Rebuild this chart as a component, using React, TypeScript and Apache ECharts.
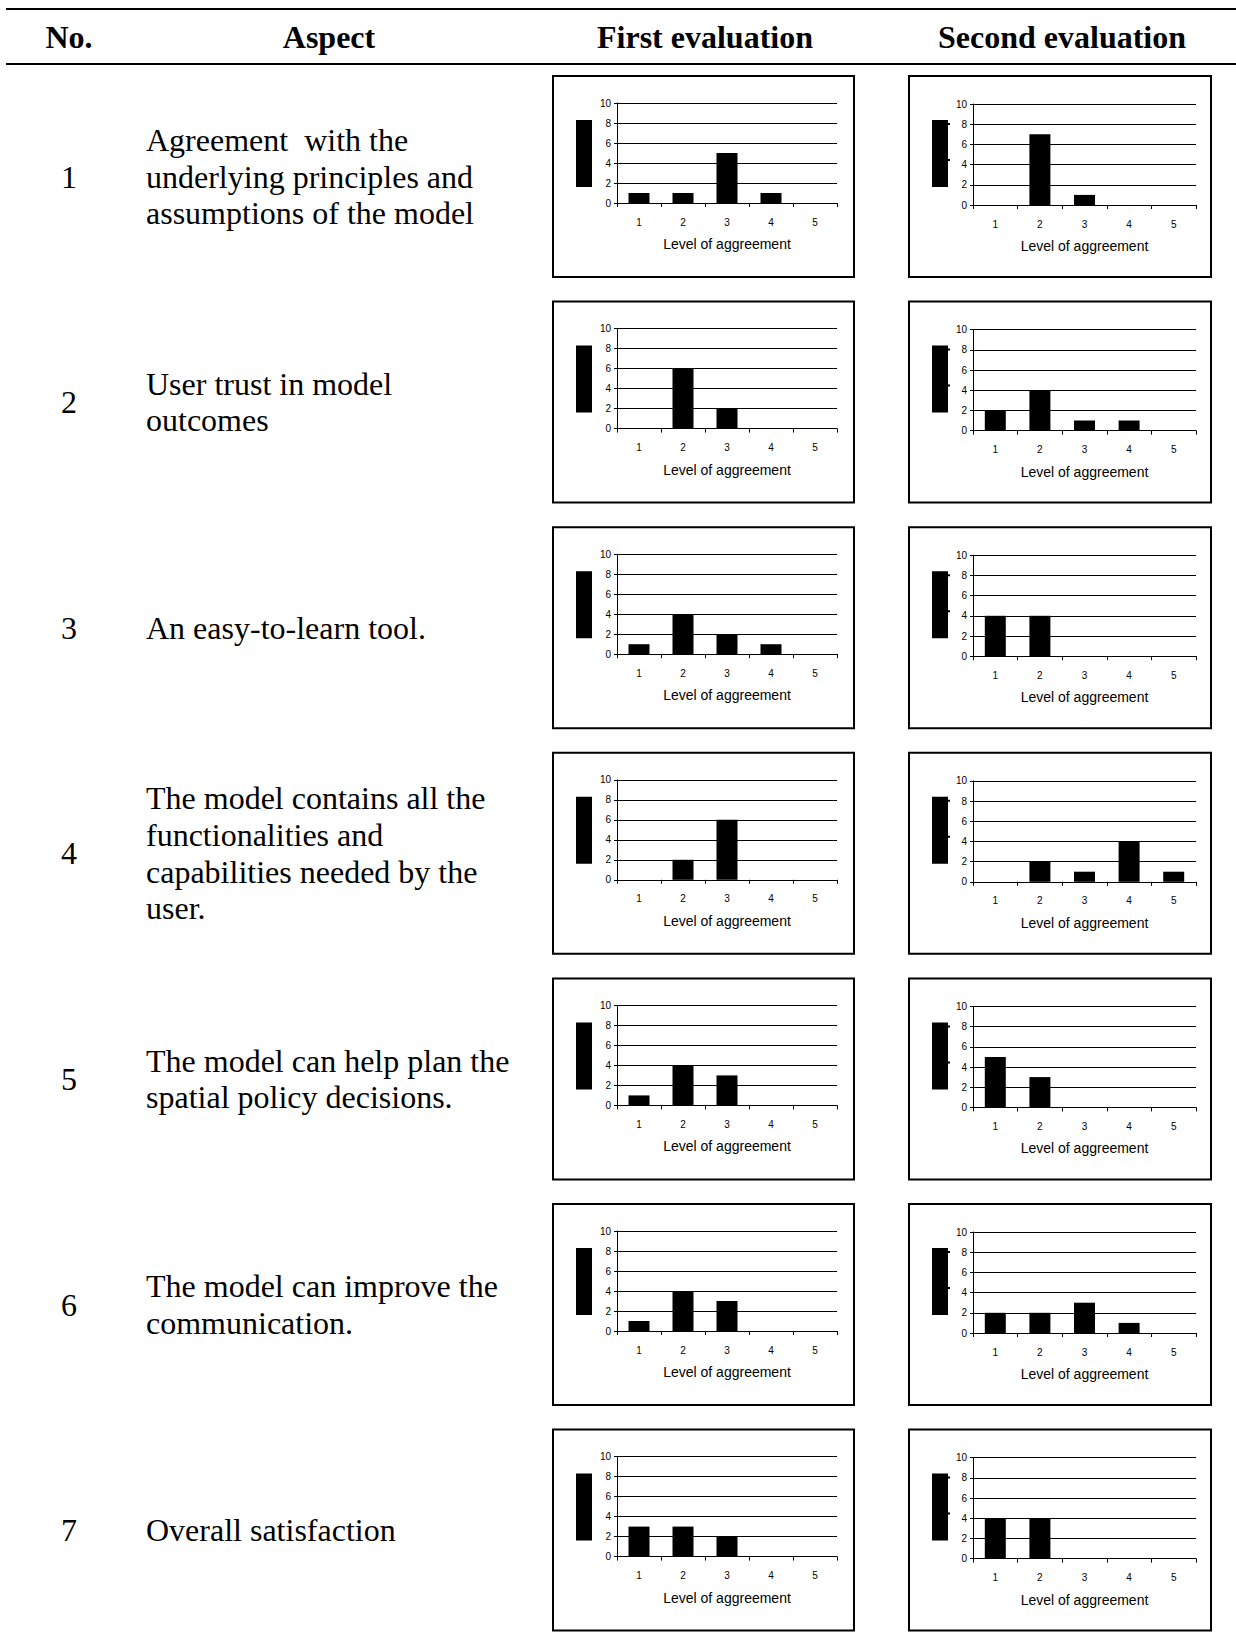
import React, { useEffect, useRef } from "react";
import * as echarts from "echarts";

const levels = ["1", "2", "3", "4", "5"];
const headers = ["No.", "Aspect", "First evaluation", "Second evaluation"];
const rowNumbers = ["1", "2", "3", "4", "5", "6", "7"];
const xAxisName = "Level of aggreement";
const aspectLines = [
  ["Agreement  with the", "underlying principles and", "assumptions of the model"],
  ["User trust in model", "outcomes"],
  ["An easy-to-learn tool."],
  ["The model contains all the", "functionalities and", "capabilities needed by the", "user."],
  ["The model can help plan the", "spatial policy decisions."],
  ["The model can improve the", "communication."],
  ["Overall satisfaction"],
];
const firstEvaluation = [
  [1, 1, 5, 1, 0],
  [0, 6, 2, 0, 0],
  [1, 4, 2, 1, 0],
  [0, 2, 6, 0, 0],
  [1, 4, 3, 0, 0],
  [1, 4, 3, 0, 0],
  [3, 3, 2, 0, 0],
];
const secondEvaluation = [
  [0, 7, 1, 0, 0],
  [2, 4, 1, 1, 0],
  [4, 4, 0, 0, 0],
  [0, 2, 1, 4, 1],
  [5, 3, 0, 0, 0],
  [2, 2, 3, 1, 0],
  [4, 4, 0, 0, 0],
];
const yMin = 0;
const yMax = 10;
const yInterval = 2;

const SERIF = '"Times New Roman", "Liberation Serif", serif';
const SANS = '"Liberation Sans", Arial, sans-serif';

const ROW_TOP0 = 75;
const ROW_PITCH = 225.6;
const BOX_H = 203;
const LINE_GAP = 36.6;
const cols = [
  { x: 552, w: 303, plotL: 617, plotW: 220, plotTop: 28, plotH: 100, rectX: 576 },
  { x: 908, w: 304, plotL: 973, plotW: 223, plotTop: 29, plotH: 101, rectX: 932 },
];

export default function App() {
  const ref = useRef<HTMLDivElement>(null);
  useEffect(() => {
    const chart = echarts.init(ref.current!, null, { renderer: "svg" });
    const grids: any[] = [];
    const xAxes: any[] = [];
    const yAxes: any[] = [];
    const series: any[] = [];
    const elements: any[] = [];

    const txt = (x: number, y: number, text: string, font: string, align: string) => ({
      type: "text",
      x,
      y,
      silent: true,
      style: { text, font, fill: "#000", textAlign: align, textVerticalAlign: "middle", align, verticalAlign: "middle" },
    });

    // header rules
    elements.push({ type: "line", shape: { x1: 6, y1: 9, x2: 1236, y2: 9 }, style: { stroke: "#000", lineWidth: 2 } });
    elements.push({ type: "line", shape: { x1: 6, y1: 64, x2: 1236, y2: 64 }, style: { stroke: "#000", lineWidth: 2 } });
    const headerX = [69, 329, 705, 1062];
    headers.forEach((h, i) => elements.push(txt(headerX[i], 37, h, `bold 32px ${SERIF}`, "center")));

    const evals = [firstEvaluation, secondEvaluation];
    rowNumbers.forEach((num, r) => {
      const top = ROW_TOP0 + r * ROW_PITCH;
      const center = top + BOX_H / 2;
      elements.push(txt(69, center, num, `32px ${SERIF}`, "center"));
      const lines = aspectLines[r];
      lines.forEach((ln, i) => {
        elements.push(txt(146, center + (i - (lines.length - 1) / 2) * LINE_GAP, ln, `32px ${SERIF}`, "left"));
      });
      cols.forEach((c, ci) => {
        const idx = grids.length;
        elements.push({
          type: "rect",
          shape: { x: c.x + 1, y: top + 1, width: c.w - 2, height: BOX_H - 2 },
          style: { fill: "none", stroke: "#000", lineWidth: 2 },
          silent: true,
        });
        elements.push({
          type: "rect",
          shape: { x: c.rectX, y: top + 45, width: 16, height: 67 },
          style: { fill: "#000" },
          silent: true,
        });
        if (ci === 1) {
          elements.push({ type: "rect", shape: { x: c.rectX + 16, y: top + 48, width: 2, height: 2 }, style: { fill: "#000" }, silent: true });
          elements.push({ type: "rect", shape: { x: c.rectX + 16, y: top + 84, width: 2, height: 2 }, style: { fill: "#000" }, silent: true });
        }
        grids.push({ left: c.plotL, top: top + c.plotTop, width: c.plotW, height: c.plotH, containLabel: false });
        xAxes.push({
          type: "category",
          gridIndex: idx,
          data: levels,
          boundaryGap: true,
          name: xAxisName,
          nameLocation: "middle",
          nameGap: 34,
          nameTextStyle: { fontFamily: SANS, fontSize: 14, color: "#000" },
          axisLine: { show: true, lineStyle: { color: "#000", width: 1 } },
          axisTick: { show: true, length: 4, lineStyle: { color: "#000" } },
          axisLabel: { fontFamily: SANS, fontSize: 10, color: "#000", margin: 14 },
          splitLine: { show: false },
        });
        yAxes.push({
          type: "value",
          gridIndex: idx,
          min: yMin,
          max: yMax,
          interval: yInterval,
          axisLine: { show: true, lineStyle: { color: "#000", width: 1 } },
          axisTick: { show: true, length: 3, lineStyle: { color: "#000" } },
          axisLabel: { fontFamily: SANS, fontSize: 10, color: "#000", margin: 6 },
          splitLine: { show: true, lineStyle: { color: "#000", width: 1 } },
        });
        series.push({
          type: "bar",
          xAxisIndex: idx,
          yAxisIndex: idx,
          data: evals[ci][r],
          barWidth: 21,
          silent: true,
          itemStyle: { color: "#000" },
        });
      });
    });

    chart.setOption({
      animation: false,
      backgroundColor: "#fff",
      grid: grids,
      xAxis: xAxes,
      yAxis: yAxes,
      series,
      graphic: { elements },
    });
    return () => chart.dispose();
  }, []);
  return (
    <div
      ref={ref}
      style={{ position: "absolute", left: 0, top: 0, width: 1236, height: 1637, background: "#fff" }}
    />
  );
}
